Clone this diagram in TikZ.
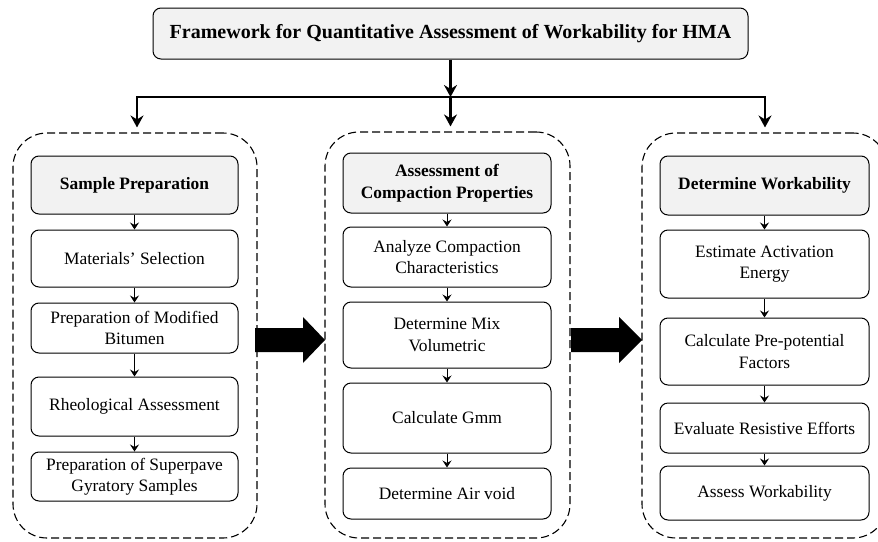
\documentclass[tikz,border=0pt]{standalone}
\usepackage{fontspec}
\setmainfont{Liberation Serif}
\newfontfamily\tnr{Liberation Serif}
\usetikzlibrary{arrows.meta,calc}
\definecolor{hdr}{RGB}{242,242,242}
\tikzset{
  bighead/.tip={Stealth[length=12pt,width=13pt,inset=4pt]},
  smallhead/.tip={Stealth[length=7pt,width=9pt,inset=2.5pt]}
}
\begin{document}
\begin{tikzpicture}[x=1pt,y=1pt,
  every node/.style={font=\tnr\fontsize{17.4}{21.5}\selectfont, align=center, inner sep=0pt},
  ibox/.style={draw=black, line width=1pt, rounded corners=8pt, fill=white},
  hbox/.style={ibox, fill=hdr, font=\tnr\fontsize{17.4}{21.5}\selectfont\bfseries},
  grp/.style={draw=black, line width=1.1pt, dash pattern=on 8pt off 4pt, rounded corners=34pt},
  sarrow/.style={draw=black, line width=1pt, -{smallhead}},
  bigline/.style={draw=black, line width=2.6pt}]
\useasboundingbox (0,-541) rectangle (878,0);
\clip (0,-541) rectangle (878,0);

% group frames
\node[grp, minimum width=244pt, minimum height=405pt] (DL) at (135,-335.5) {};
\node[grp, minimum width=245pt, minimum height=406pt] (DM) at (447.5,-335) {};
\node[grp, minimum width=245pt, minimum height=405pt] (DR) at (764.5,-335.5) {};

% title
\node[ibox, fill=hdr, minimum width=595pt, minimum height=51pt,
      font=\tnr\fontsize{20}{24}\selectfont\bfseries] (T) at (450.5,-33.5)
      {Framework for Quantitative Assessment of Workability for HMA};

\coordinate (hub) at (450.5,-97);
\coordinate (jL) at (137,-97);
\coordinate (jR) at (765,-97);
\draw[bigline,-{bighead}] (T.south) -- (hub);
\draw[bigline,{bighead}-{bighead}] ([yshift=5pt]jL |- DL.north) -- (jL) -- (jR) -- ([yshift=5pt]jR |- DR.north);
\draw[bigline,-{bighead}] (hub) -- ([yshift=5pt]hub |- DM.north);

% left column
\node[hbox, minimum width=207pt, minimum height=58pt] (L1) at (134.5,-185) {Sample Preparation};
\node[ibox, minimum width=207pt, minimum height=57pt] (L2) at (134.5,-258.5) {Materials’ Selection};
\node[ibox, minimum width=207pt, minimum height=50pt] (L3) at (134.5,-328) {Preparation of Modified\\Bitumen};
\node[ibox, minimum width=207pt, minimum height=59pt] (L4) at (134.5,-406.5) {Rheological Assessment};
\node[ibox, minimum width=207pt, minimum height=49pt] (L5) at (134.5,-476.5) {Preparation of Superpave\\Gyratory Samples};

% middle column
\node[hbox, minimum width=208pt, minimum height=60pt] (M1) at (447,-183) {Assessment of\\Compaction Properties};
\node[ibox, minimum width=208pt, minimum height=60pt] (M2) at (447,-257) {Analyze Compaction\\Characteristics};
\node[ibox, minimum width=208pt, minimum height=66pt] (M3) at (447,-335) {Determine Mix\\Volumetric};
\node[ibox, minimum width=208pt, minimum height=70pt] (M4) at (447,-418) {Calculate Gmm};
\node[ibox, minimum width=208pt, minimum height=51pt] (M5) at (447,-493.5) {Determine Air void};

% right column
\node[hbox, minimum width=209pt, minimum height=59pt] (R1) at (764.5,-185.5) {Determine Workability};
\node[ibox, minimum width=209pt, minimum height=68pt] (R2) at (764.5,-264) {Estimate Activation\\Energy};
\node[ibox, minimum width=209pt, minimum height=67pt] (R3) at (764.5,-351.5) {Calculate Pre-potential\\Factors};
\node[ibox, minimum width=209pt, minimum height=50pt] (R4) at (764.5,-428) {Evaluate Resistive Efforts};
\node[ibox, minimum width=209pt, minimum height=54pt] (R5) at (764.5,-493) {Assess Workability};

\foreach \a/\b in {L1/L2,L2/L3,L3/L4,L4/L5,M1/M2,M2/M3,M3/M4,M4/M5,R1/R2,R2/R3,R3/R4,R4/R5}
  \draw[sarrow] (\a) -- (\b);

% block arrows between groups
\coordinate (aL) at (255,-340);
\coordinate (aR) at (571,-340);
\fill[black] ($(aL)+(0,12)$) -- ($(aL)+(48,12)$) -- ($(aL)+(48,23)$) -- ($(aL)+(70,0)$)
  -- ($(aL)+(48,-23)$) -- ($(aL)+(48,-12)$) -- ($(aL)+(0,-12)$) -- cycle;
\fill[black] ($(aR)+(0,12)$) -- ($(aR)+(48,12)$) -- ($(aR)+(48,23)$) -- ($(aR)+(71,0)$)
  -- ($(aR)+(48,-23)$) -- ($(aR)+(48,-12)$) -- ($(aR)+(0,-12)$) -- cycle;
\end{tikzpicture}
\end{document}
